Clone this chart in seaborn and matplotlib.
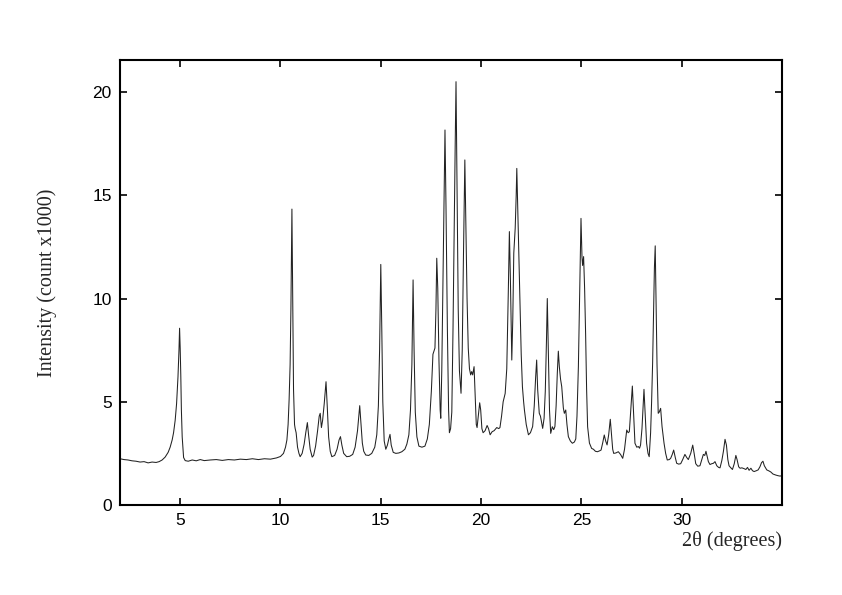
import matplotlib
matplotlib.use("Agg")
import matplotlib.pyplot as plt
import seaborn as sns
import pandas as pd

# 2-theta positions (degrees) and intensities (count x1000)
two_theta = [
    2.0, 2.2, 2.4, 2.6, 2.8, 3.0, 3.2, 3.4, 3.6, 3.8, 3.95, 4.1, 4.25, 4.4, 4.5, 4.6, 4.67, 4.75, 4.82, 4.89,
    4.94, 4.97, 5.0, 5.03, 5.06, 5.1, 5.17, 5.25, 5.4, 5.6, 5.8, 6.0, 6.2, 6.5, 6.8, 7.1, 7.4, 7.7, 8.0, 8.3,
    8.6, 8.9, 9.2, 9.5, 9.8, 10.0, 10.15, 10.25, 10.32, 10.38, 10.43, 10.48, 10.52, 10.57, 10.61, 10.65, 10.7,
    10.73, 10.78, 10.85, 10.92, 10.98, 11.08, 11.18, 11.26, 11.34, 11.4, 11.48, 11.58, 11.65, 11.75, 11.85,
    11.93, 11.98, 12.04, 12.1, 12.18, 12.27, 12.33, 12.4, 12.48, 12.56, 12.7, 12.82, 12.92, 12.99, 13.06,
    13.15, 13.3, 13.45, 13.6, 13.72, 13.84, 13.92, 13.95, 14.0, 14.08, 14.15, 14.25, 14.4, 14.55, 14.7, 14.8,
    14.88, 14.94, 15.0, 15.05, 15.1, 15.17, 15.25, 15.33, 15.4, 15.46, 15.52, 15.62, 15.75, 15.9, 16.05, 16.2,
    16.3, 16.4, 16.48, 16.55, 16.61, 16.66, 16.72, 16.8, 16.9, 17.05, 17.2, 17.32, 17.42, 17.52, 17.6, 17.7,
    17.75, 17.79, 17.84, 17.9, 17.96, 17.99, 18.04, 18.1, 18.16, 18.2, 18.25, 18.32, 18.38, 18.42, 18.48,
    18.54, 18.6, 18.66, 18.71, 18.75, 18.8, 18.86, 18.92, 19.0, 19.06, 19.12, 19.19, 19.24, 19.3, 19.36,
    19.42, 19.48, 19.53, 19.58, 19.65, 19.7, 19.76, 19.8, 19.87, 19.93, 19.98, 20.04, 20.1, 20.2, 20.3,
    20.37, 20.45, 20.55, 20.65, 20.78, 20.88, 20.94, 21.02, 21.1, 21.2, 21.28, 21.36, 21.41, 21.46, 21.53,
    21.58, 21.63, 21.7, 21.75, 21.78, 21.84, 21.92, 22.0, 22.06, 22.12, 22.16, 22.25, 22.36, 22.46, 22.57,
    22.65, 22.72, 22.77, 22.82, 22.9, 22.96, 23.07, 23.14, 23.2, 23.26, 23.3, 23.35, 23.41, 23.47, 23.55,
    23.62, 23.68, 23.74, 23.8, 23.85, 23.9, 23.96, 24.02, 24.1, 24.15, 24.22, 24.28, 24.35, 24.45, 24.55,
    24.65, 24.72, 24.78, 24.85, 24.92, 24.98, 25.03, 25.06, 25.11, 25.16, 25.21, 25.26, 25.31, 25.4, 25.51,
    25.6, 25.7, 25.8, 25.9, 25.98, 26.06, 26.14, 26.21, 26.28, 26.36, 26.44, 26.5, 26.56, 26.61, 26.72,
    26.84, 26.95, 27.06, 27.15, 27.22, 27.26, 27.33, 27.39, 27.46, 27.54, 27.6, 27.67, 27.76, 27.84, 27.9,
    27.95, 28.02, 28.07, 28.12, 28.18, 28.25, 28.32, 28.38, 28.45, 28.5, 28.55, 28.6, 28.64, 28.68, 28.72,
    28.77, 28.83, 28.88, 28.95, 29.02, 29.12, 29.2, 29.28, 29.38, 29.45, 29.53, 29.6, 29.68, 29.75, 29.85,
    29.95, 30.05, 30.16, 30.25, 30.33, 30.45, 30.55, 30.62, 30.7, 30.8, 30.91, 31.0, 31.08, 31.15, 31.21,
    31.28, 31.33, 31.41, 31.5, 31.58, 31.66, 31.75, 31.84, 31.91, 32.0, 32.08, 32.16, 32.23, 32.3, 32.36,
    32.45, 32.53, 32.62, 32.7, 32.76, 32.84, 32.91, 33.0, 33.11, 33.2, 33.28, 33.36, 33.45, 33.53, 33.61,
    33.72, 33.81, 33.9, 33.98, 34.05, 34.12, 34.24, 34.35, 34.44, 34.55, 34.69, 34.8, 34.9, 35.0,
]
intensity = [
    2.24, 2.2, 2.18, 2.14, 2.12, 2.08, 2.1, 2.04, 2.08, 2.06, 2.1, 2.18, 2.32, 2.55, 2.8, 3.15, 3.5, 4.1, 4.9, 6.2,
    7.5, 8.56, 7.6, 6.3, 4.6, 3.3, 2.3, 2.15, 2.12, 2.18, 2.14, 2.2, 2.15, 2.18, 2.2, 2.16, 2.2, 2.18, 2.22, 2.2,
    2.24, 2.2, 2.24, 2.22, 2.28, 2.35, 2.5, 2.8, 3.15, 3.9, 5.1, 6.8, 9.5, 14.33, 9.8, 5.6, 3.9,
    3.71, 3.5, 2.8, 2.5, 2.34, 2.5, 2.95, 3.5, 3.99, 3.4, 2.7, 2.32, 2.4, 2.85, 3.6,
    4.3, 4.44, 3.75, 4.1, 4.9, 5.97, 4.8, 3.3, 2.6, 2.34, 2.4, 2.7, 3.15, 3.31, 2.9,
    2.5, 2.34, 2.36, 2.45, 2.8, 3.6, 4.5, 4.81, 4.1, 3.0, 2.6, 2.42, 2.4, 2.5, 2.8, 3.4,
    4.8, 7.5, 11.65, 8.5, 5.0, 3.1, 2.7, 2.9, 3.2, 3.42, 2.9, 2.55, 2.5, 2.52, 2.58, 2.7,
    2.95, 3.4, 4.6, 6.8, 10.9, 7.5, 4.5, 3.3, 2.85, 2.8, 2.85, 3.2, 3.9, 5.5, 7.3, 7.6,
    9.5, 11.95, 10.5, 7.0, 4.6, 4.2, 6.5, 11.0, 15.5, 18.16, 14.5, 8.5, 4.6, 3.5, 3.7,
    4.5, 8.5, 13.5, 17.5, 20.5, 15.5, 9.5, 6.5, 5.41, 7.5, 12.0, 16.71, 13.5, 10.0, 7.6,
    6.6, 6.3, 6.46, 6.3, 6.7, 5.4, 3.9, 3.75, 4.4, 4.95, 4.6, 3.7, 3.5, 3.6, 3.85,
    3.7, 3.4, 3.55, 3.6, 3.75, 3.7, 3.75, 4.3, 5.0, 5.4, 6.6, 10.5, 13.24, 11.0, 7.02,
    9.0, 12.2, 13.4, 15.0, 16.3, 13.8, 10.3, 7.3, 5.73, 5.0, 4.6, 3.9, 3.4, 3.5, 3.8,
    4.8, 6.2, 7.02, 5.6, 4.44, 4.3, 3.71, 4.2, 5.5, 8.0, 10.0, 7.5, 4.6, 3.47, 3.79,
    3.65, 3.8, 4.8, 6.4, 7.45, 6.7, 6.1, 5.73, 4.7, 4.44, 4.6, 3.9, 3.31, 3.1, 2.99,
    3.05, 3.2, 4.3, 6.7, 10.5, 13.88, 12.0, 11.6, 12.03, 10.5, 8.3, 5.6, 3.79, 3.0, 2.74,
    2.7, 2.6, 2.58, 2.62, 2.66, 3.0, 3.39, 3.1, 2.91, 3.4, 4.15, 3.4, 2.7, 2.5, 2.52,
    2.58, 2.45, 2.26, 2.7, 3.3, 3.63, 3.5, 3.55, 4.6, 5.76, 4.5, 2.99, 2.8, 2.83, 2.75,
    2.91, 3.7, 4.7, 5.6, 4.4, 2.99, 2.5, 2.34, 3.5, 5.0, 6.86, 9.5, 11.5, 12.55, 10.0,
    6.8, 4.44, 4.5, 4.68, 3.8, 2.99, 2.5, 2.18, 2.2, 2.26, 2.45, 2.66, 2.3, 2.02, 1.98,
    2.0, 2.2, 2.45, 2.3, 2.2, 2.5, 2.9, 2.5, 2.0, 1.88, 1.9, 2.2, 2.45, 2.4, 2.6,
    2.3, 2.1, 1.96, 2.0, 2.02, 2.1, 1.9, 1.82, 1.8, 2.15, 2.6, 3.18, 2.9, 2.2, 1.9,
    1.8, 1.72, 2.0, 2.4, 2.2, 1.85, 1.78, 1.8, 1.76, 1.72, 1.82, 1.68, 1.78, 1.66, 1.62,
    1.66, 1.7, 1.85, 2.05, 2.12, 1.9, 1.7, 1.65, 1.6, 1.5, 1.45, 1.42, 1.4, 1.42,
]
x_ticks = [5, 10, 15, 20, 25, 30]
y_ticks = [0, 5, 10, 15, 20]

df = pd.DataFrame({"two_theta": two_theta, "intensity": intensity})

sns.set_style("ticks")
plt.rcParams["font.family"] = ["Liberation Sans", "DejaVu Sans"]

fig = plt.figure(figsize=(8.42, 5.95), dpi=100)
ax = fig.add_axes([120 / 842, 90 / 595, 662 / 842, 445 / 595])

sns.lineplot(data=df, x="two_theta", y="intensity", ax=ax, color="#222222",
             linewidth=0.75, estimator=None, sort=False)

ax.set_xlim(2, 35)
ax.set_ylim(0, 21.55)
ax.set_xticks(x_ticks)
ax.set_yticks(y_ticks)
ax.tick_params(direction="in", length=5, width=1.2, top=True, right=True,
               labelsize=12.5, colors="black", pad=6)
for s in ax.spines.values():
    s.set_visible(True)
    s.set_linewidth(1.5)
    s.set_color("black")

ax.set_xlabel("")
ax.set_ylabel("Intensity (count x1000)", family=["Liberation Serif", "DejaVu Serif"],
              fontsize=14.5, labelpad=25)
ax.text(1.0, -0.058, "2θ (degrees)", transform=ax.transAxes, ha="right", va="top",
        family=["Liberation Serif", "DejaVu Serif"], fontsize=14.5)

fig.savefig("out.png", dpi=100)
